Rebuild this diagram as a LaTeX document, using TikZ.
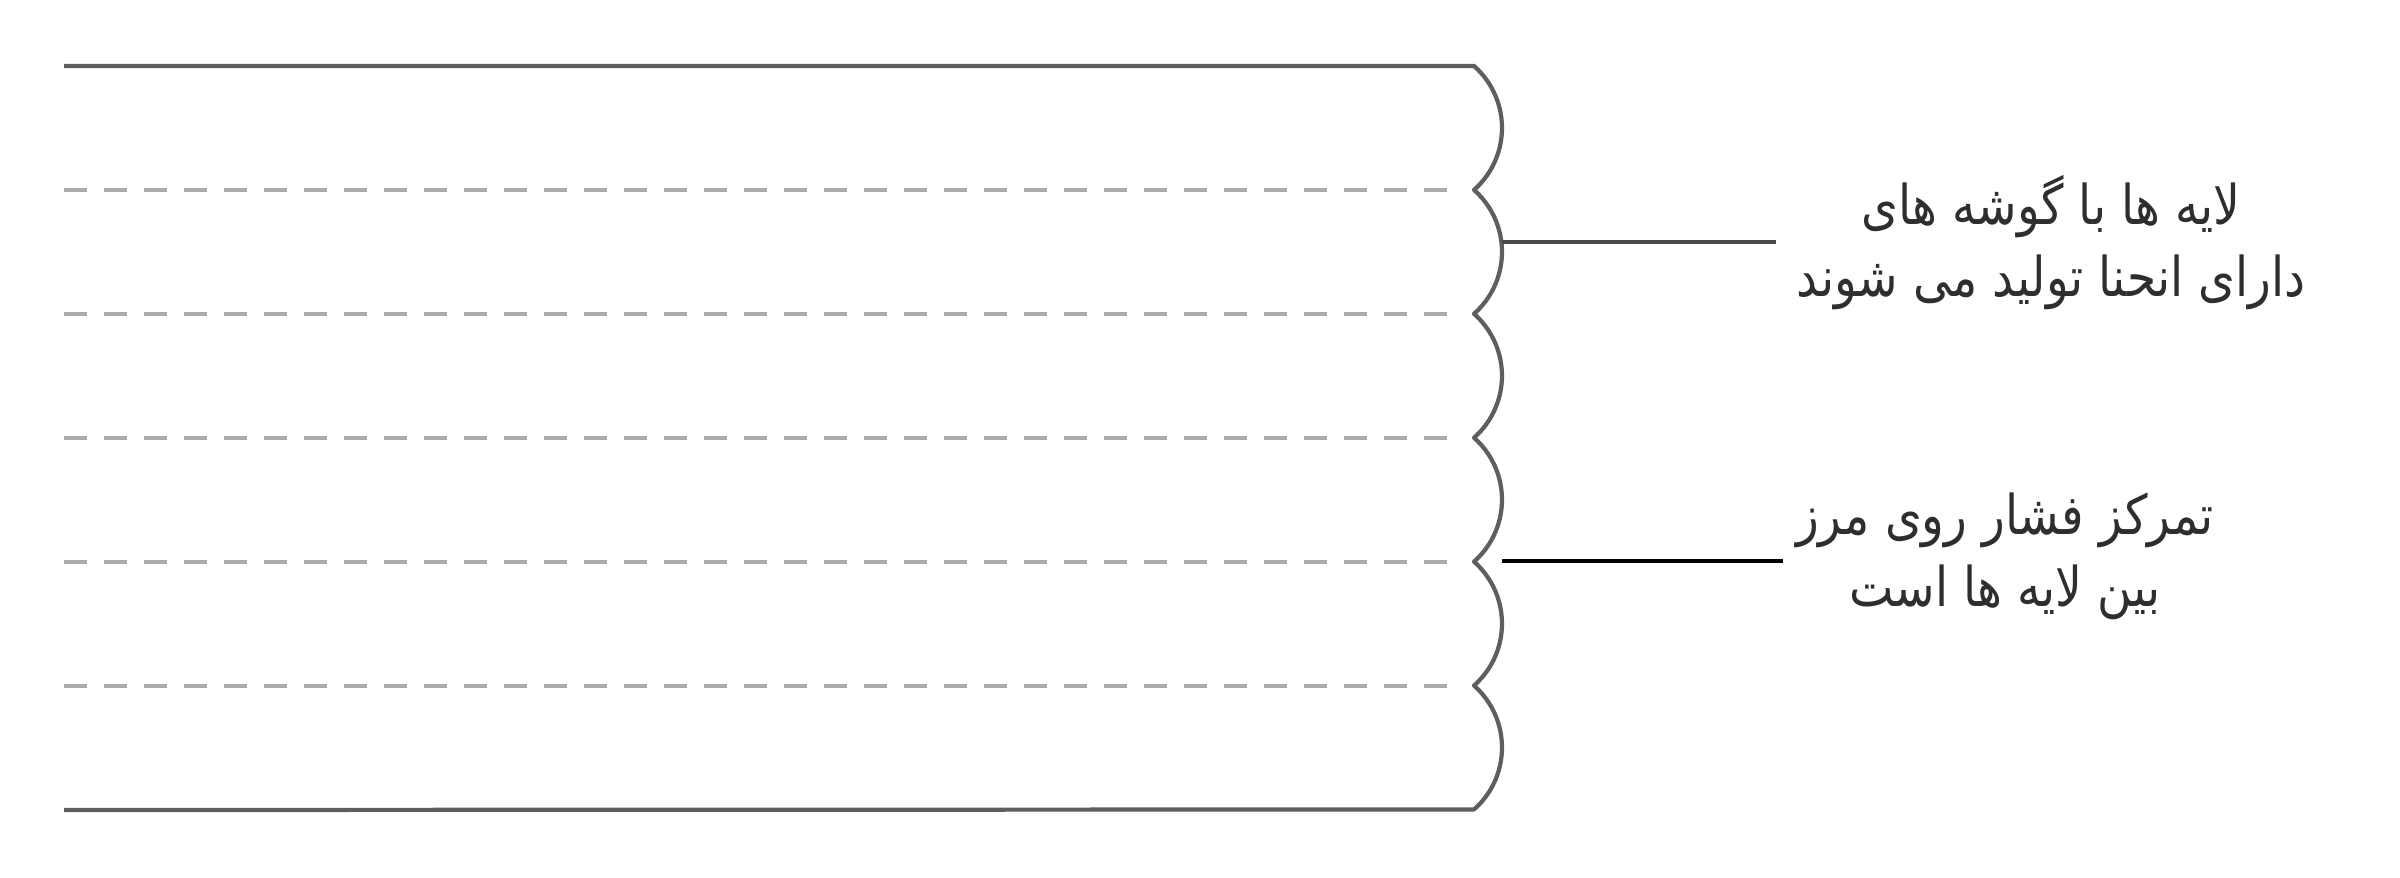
\documentclass[tikz,border=0pt]{standalone}
\usepackage{fontspec}
\TeXXeTstate=1
\newfontfamily\arabicfont[Script=Arabic,FakeStretch=0.86]{DejaVu Sans}
\definecolor{edgegray}{HTML}{5E5E5E}
\definecolor{dashgray}{HTML}{ABABAB}
\definecolor{leadgray}{HTML}{4A4A4A}
\definecolor{textgray}{HTML}{2E2E2E}
\tikzset{
  boundary/.style={draw=edgegray, line width=1.2pt, line join=round},
  layerline/.style={draw=dashgray, line width=1pt, dash pattern=on 0.23cm off 0.17cm},
  leader/.style={line width=1.1pt},
  note/.style={align=center, text=textgray, inner sep=0pt,
    font=\arabicfont\fontsize{15.6}{20.5}\selectfont},
}
\begin{document}
\begin{tikzpicture}
\useasboundingbox (0,0) rectangle (24,8.78);
% outer boundary with scalloped right edge
\draw[boundary] (0.64,8.12) -- (14.74,8.12)
  arc[start angle=48.6,end angle=-48.6,radius=0.826cm]
  arc[start angle=48.6,end angle=-48.6,radius=0.826cm]
  arc[start angle=48.6,end angle=-48.6,radius=0.826cm]
  arc[start angle=48.6,end angle=-48.6,radius=0.826cm]
  arc[start angle=48.6,end angle=-48.6,radius=0.826cm]
  arc[start angle=48.6,end angle=-48.6,radius=0.826cm]
  -- (0.64,0.68);
% layer boundaries
\foreach \y in {6.88,5.64,4.40,3.16,1.92}
  \draw[layerline] (0.64,\y) -- (14.57,\y);
% annotations
\coordinate (b1) at (15.02,6.36);
\coordinate (e1) at (17.76,6.36);
\coordinate (b2) at (15.02,3.17);
\coordinate (e2) at (17.83,3.17);
\node[note] (t1) at (20.51,6.35) {\beginR لایه ها با گوشه های\endR\\\beginR دارای انحنا تولید می شوند\endR};
\node[note] (t2) at (20.05,3.22) {\beginR تمرکز فشار روی مرز\endR\\\beginR بین لایه ها است\endR};
\draw[leader, leadgray] (b1) -- (e1);
\draw[leader, black] (b2) -- (e2);
\end{tikzpicture}
\end{document}
